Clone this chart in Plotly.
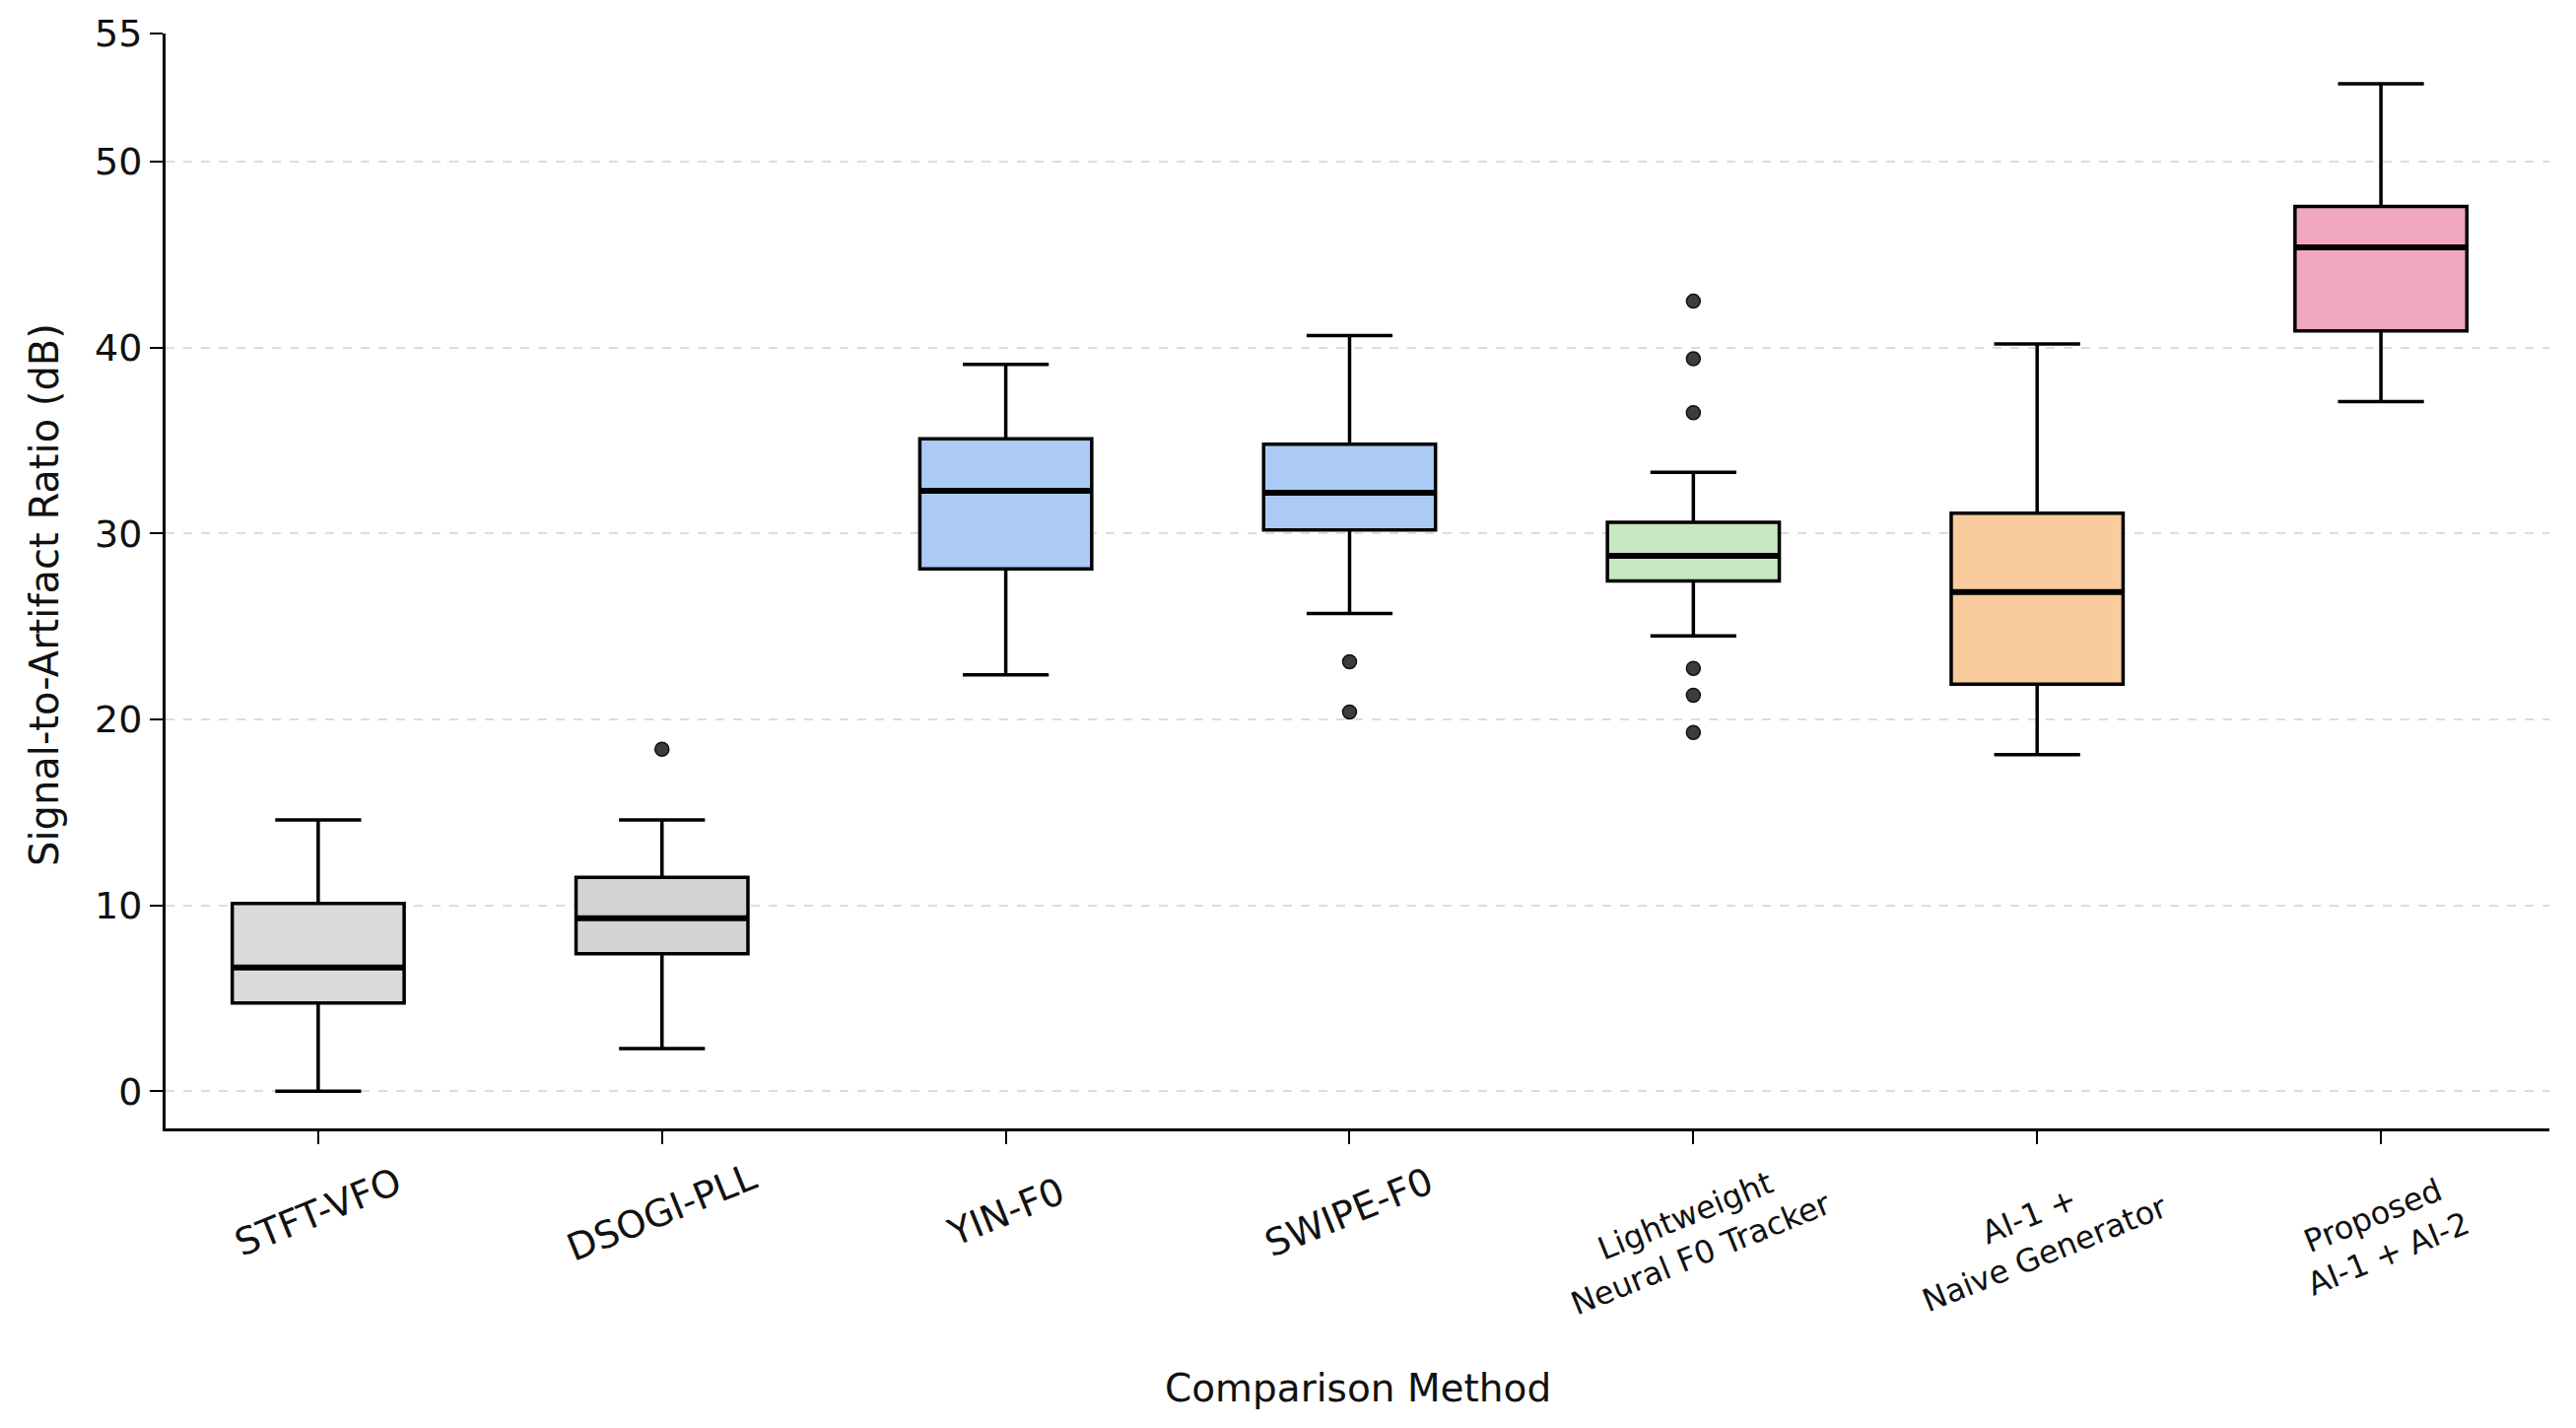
import plotly.graph_objects as go

# Data
methods = ["STFT-VFO", "DSOGI-PLL", "YIN-F0", "SWIPE-F0",
           "Lightweight<br>Neural F0 Tracker", "AI-1 +<br>Naive Generator",
           "Proposed<br>AI-1 + AI-2"]
lower = [0.0, 2.3, 22.4, 25.7, 24.5, 18.1, 37.1]
q1 = [4.75, 7.4, 28.1, 30.2, 27.45, 21.9, 40.9]
median = [6.65, 9.3, 32.3, 32.2, 28.8, 26.85, 45.4]
q3 = [10.1, 11.5, 35.1, 34.8, 30.6, 31.1, 47.6]
upper = [14.6, 14.6, 39.1, 40.65, 33.3, 40.2, 54.2]
outliers = [[], [18.4], [], [23.1, 20.4],
            [42.5, 39.4, 36.5, 22.75, 21.3, 19.3], [], []]
colors = ["#dadada", "#d3d3d3", "#abcbf6", "#abcbf6", "#c6e8c0", "#f9cb9d", "#f1a6c2"]
label_size = [38, 38, 38, 38, 32, 32, 32]

y_ticks = [0, 10, 20, 30, 40, 50, 56.9]
y_ticktext = ["0", "10", "20", "30", "40", "50", "55"]
grid_ticks = [0, 10, 20, 30, 40, 50]

fig = go.Figure()

for i, m in enumerate(methods):
    fig.add_trace(go.Box(
        x=[i], q1=[q1[i]], median=[median[i]], q3=[q3[i]],
        lowerfence=[lower[i]], upperfence=[upper[i]],
        width=0.5, whiskerwidth=0.5, boxpoints=False,
        fillcolor=colors[i], line=dict(color="black", width=3.5),
        showlegend=False, hoverinfo="skip"))
    # thicker median line on top
    fig.add_trace(go.Scatter(
        x=[i - 0.25, i + 0.25], y=[median[i], median[i]], mode="lines",
        line=dict(color="black", width=6), showlegend=False, hoverinfo="skip"))
    if outliers[i]:
        fig.add_trace(go.Scatter(
            x=[i] * len(outliers[i]), y=outliers[i], mode="markers",
            marker=dict(size=14, color="#3c3c3c", line=dict(color="#111111", width=1.5)),
            showlegend=False, hoverinfo="skip"))
    # rotated category labels
    fig.add_annotation(
        x=i, y=0, xref="x", yref="paper", text=m, showarrow=False,
        textangle=-22, xanchor="center", yanchor="middle",
        yshift=-85 if "<br>" not in m else -108,
        font=dict(family="DejaVu Sans", size=label_size[i], color="#111111"))

fig.add_annotation(x=0.5, y=0, xref="paper", yref="paper", text="Comparison Method",
                   showarrow=False, xanchor="center", yanchor="middle", yshift=-263,
                   font=dict(family="DejaVu Sans", size=39, color="#111111"))
fig.add_annotation(x=0, y=0.487, xref="paper", yref="paper",
                   text="Signal-to-Artifact Ratio (dB)", textangle=-90,
                   showarrow=False, xanchor="center", yanchor="middle", xshift=-123,
                   font=dict(family="DejaVu Sans", size=40, color="#111111"))

fig.update_layout(
    width=2606, height=1441,
    margin=dict(l=160, r=27, t=26, b=304),
    paper_bgcolor="white", plot_bgcolor="white",
    font=dict(family="DejaVu Sans", color="#111111"),
    xaxis=dict(range=[-0.444, 6.49], tickvals=list(range(len(methods))),
               showticklabels=False, ticks="outside", ticklen=13, tickwidth=2,
               tickcolor="black", showline=True, linecolor="black", linewidth=3,
               showgrid=False, zeroline=False, automargin=False),
    yaxis=dict(range=[-2.0, 56.9], tickvals=y_ticks, ticktext=y_ticktext,
               ticks="outside", ticklen=13, tickwidth=2, tickcolor="black",
               tickfont=dict(size=38, family="DejaVu Sans"),
               showline=True, linecolor="black", linewidth=3,
               showgrid=False, zeroline=False, automargin=False,
               minor=dict(tickvals=grid_ticks, showgrid=True, gridcolor="#dcdcdc",
                          griddash="dash", gridwidth=2, ticks="")),
)

fig.write_html("out.html")
